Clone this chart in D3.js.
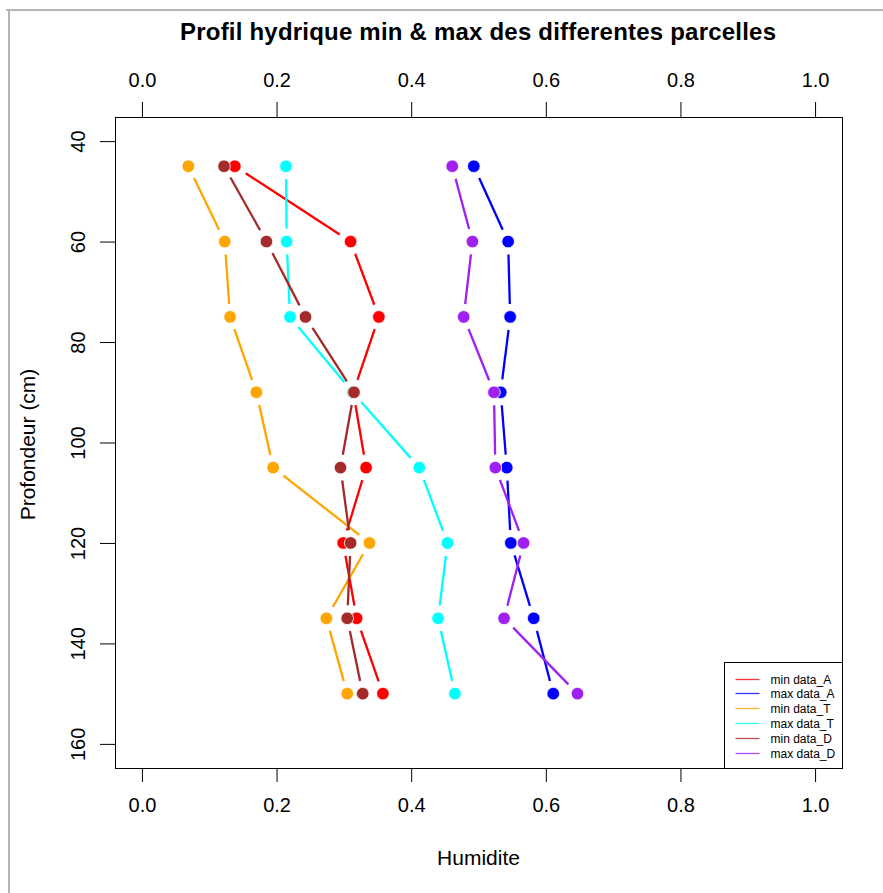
<!DOCTYPE html>
<html lang="en">
<head>
    <meta charset="UTF-8">
    <style>
        body {
            margin: 0;
            padding: 0;
            background-color: #fff;
            overflow: hidden;
        }

        #chart {
            display: block;
        }

        text {
            font-family: "Liberation Sans", Arial, sans-serif;
            fill: #000;
        }
    </style>
</head>
<body>
    <svg id="chart"></svg>

    <script src="https://cdnjs.cloudflare.com/ajax/libs/d3/7.8.5/d3.min.js"></script>
    <script>
        const width = 883;
        const height = 893;

        // depths (cm)
        const depths = [45, 60, 75, 90, 105, 120, 135, 150];

        // humidity profiles
        const minA = [0.138, 0.310, 0.352, 0.314, 0.333, 0.299, 0.319, 0.358];
        const maxA = [0.493, 0.544, 0.547, 0.533, 0.542, 0.548, 0.582, 0.611];
        const minT = [0.069, 0.123, 0.131, 0.170, 0.195, 0.338, 0.274, 0.305];
        const maxT = [0.214, 0.215, 0.220, 0.313, 0.412, 0.454, 0.440, 0.465];
        const minD = [0.122, 0.185, 0.243, 0.315, 0.295, 0.310, 0.305, 0.328];
        const maxD = [0.461, 0.491, 0.478, 0.523, 0.525, 0.567, 0.538, 0.647];

        const seriesNames = ["min data_A", "max data_A", "min data_T", "max data_T", "min data_D", "max data_D"];
        const seriesColors = ["#ff0000", "#0000ff", "#ffa500", "#00ffff", "#a52a2a", "#a020f0"];
        const seriesValues = [minA, maxA, minT, maxT, minD, maxD];

        const xTicks = [0, 0.2, 0.4, 0.6, 0.8, 1.0];
        const yTicks = [40, 60, 80, 100, 120, 140, 160];

        const plot = { left: 115, right: 842, top: 117, bottom: 768 };

        const svg = d3.select("#chart")
            .attr("width", width)
            .attr("height", height);

        // screenshot frame
        svg.append("line").attr("x1", 6).attr("x2", width).attr("y1", 10).attr("y2", 10)
            .attr("stroke", "#b4b4b4").attr("stroke-width", 2);
        svg.append("line").attr("x1", 9).attr("x2", 9).attr("y1", 9).attr("y2", height)
            .attr("stroke", "#b4b4b4").attr("stroke-width", 2);

        // R style: 4% padding on both sides
        const x = d3.scaleLinear().domain([-0.04, 1.04]).range([plot.left, plot.right]);
        const y = d3.scaleLinear().domain([35.2, 164.8]).range([plot.top, plot.bottom]);

        const fmt = d3.format(".1f");

        // axes
        const gTop = svg.append("g").attr("transform", `translate(0,${plot.top})`)
            .call(d3.axisTop(x).tickValues(xTicks).tickFormat(fmt).tickSize(15).tickPadding(15));
        const gBottom = svg.append("g").attr("transform", `translate(0,${plot.bottom})`)
            .call(d3.axisBottom(x).tickValues(xTicks).tickFormat(fmt).tickSize(14).tickPadding(16));
        const gLeft = svg.append("g").attr("transform", `translate(${plot.left},0)`)
            .call(d3.axisLeft(y).tickValues(yTicks).tickSize(15));

        [gTop, gBottom, gLeft].forEach(g => {
            g.select(".domain").remove();
            g.selectAll("line").attr("stroke", "#000").attr("stroke-width", 1);
            g.selectAll("text").attr("font-size", 20).attr("font-family", "Liberation Sans, Arial, sans-serif");
        });

        // y tick labels parallel to the axis, as in R (las = 0)
        gLeft.selectAll(".tick text")
            .attr("x", null)
            .attr("text-anchor", "middle")
            .attr("dy", "0.36em")
            .attr("transform", "translate(-37,0) rotate(-90)");

        // box
        svg.append("rect")
            .attr("x", plot.left + 0.5).attr("y", plot.top + 0.5)
            .attr("width", plot.right - plot.left).attr("height", plot.bottom - plot.top)
            .attr("fill", "none").attr("stroke", "#000").attr("stroke-width", 1);

        // title and axis labels
        svg.append("text")
            .attr("x", 478).attr("y", 40)
            .attr("text-anchor", "middle")
            .attr("font-size", 24).attr("font-weight", "bold")
            .attr("textLength", 596).attr("lengthAdjust", "spacing")
            .text("Profil hydrique min & max des differentes parcelles");

        svg.append("text")
            .attr("x", (plot.left + plot.right) / 2).attr("y", 865)
            .attr("text-anchor", "middle")
            .attr("font-size", 21)
            .text("Humidite");

        svg.append("text")
            .attr("transform", `translate(35,${(plot.top + plot.bottom) / 2 + 2}) rotate(-90)`)
            .attr("text-anchor", "middle")
            .attr("font-size", 21)
            .text("Profondeur (cm)");

        // lines with gaps (type = "b") and points
        const gap = 13;
        const data = seriesValues.map((vals, i) => ({
            name: seriesNames[i],
            color: seriesColors[i],
            pts: vals.map((v, j) => ({ px: x(v), py: y(depths[j]) }))
        }));

        data.forEach(s => {
            const g = svg.append("g");
            const segs = d3.pairs(s.pts).filter(([a, b]) => Math.hypot(b.px - a.px, b.py - a.py) > 2 * gap);
            g.selectAll("line")
                .data(segs)
                .join("line")
                .each(function ([a, b]) {
                    const len = Math.hypot(b.px - a.px, b.py - a.py);
                    const ux = (b.px - a.px) / len, uy = (b.py - a.py) / len;
                    d3.select(this)
                        .attr("x1", a.px + ux * gap).attr("y1", a.py + uy * gap)
                        .attr("x2", b.px - ux * gap).attr("y2", b.py - uy * gap);
                })
                .attr("stroke", s.color)
                .attr("stroke-width", 2.3);
            g.selectAll("circle")
                .data(s.pts)
                .join("circle")
                .attr("cx", d => d.px)
                .attr("cy", d => d.py)
                .attr("r", 6.3)
                .attr("fill", s.color)
                .attr("stroke", "#fff")
                .attr("stroke-width", 0.8);
        });

        // legend (bottomright)
        const legW = 118, legH = 106;
        const leg = svg.append("g").attr("transform", `translate(${plot.right - legW + 0.5},${plot.bottom - legH + 0.5})`);
        leg.append("rect")
            .attr("width", legW).attr("height", legH)
            .attr("fill", "#fff").attr("stroke", "#000").attr("stroke-width", 1);
        const rows = leg.selectAll("g.row")
            .data(data)
            .join("g")
            .attr("class", "row")
            .attr("transform", (d, i) => `translate(0,${Math.round(16.5 + i * 14.8)})`);
        rows.append("line")
            .attr("x1", 11).attr("x2", 35)
            .attr("stroke", d => d.color)
            .attr("stroke-width", 1.3)
            .attr("stroke-opacity", 0.8);
        rows.append("text")
            .attr("x", 46).attr("dy", "0.35em")
            .attr("font-size", 12)
            .text(d => d.name);
    </script>
</body>
</html>
